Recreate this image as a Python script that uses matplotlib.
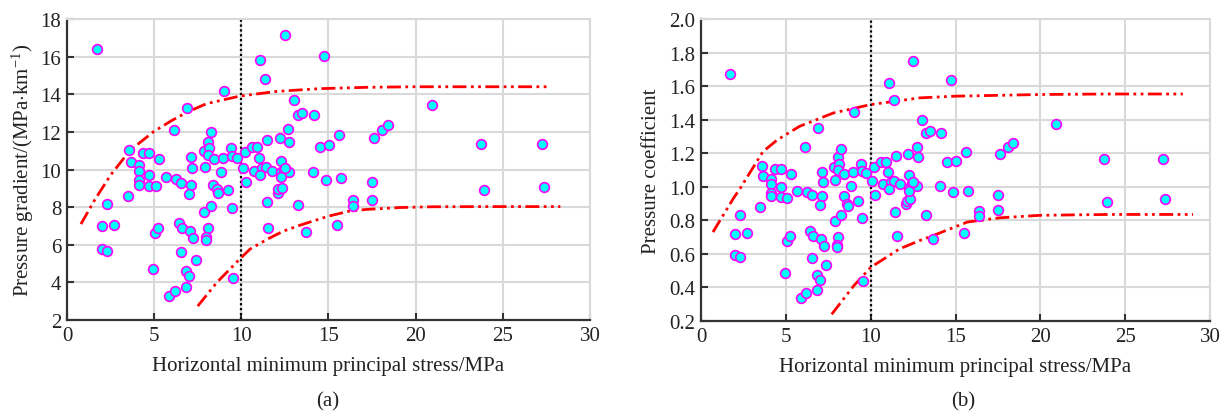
import matplotlib
matplotlib.use("Agg")
import matplotlib.pyplot as plt

plt.rcParams['font.family'] = ['Liberation Serif', 'DejaVu Serif']
plt.rcParams['mathtext.fontset'] = 'custom'
plt.rcParams['mathtext.rm'] = 'Liberation Serif'
plt.rcParams['mathtext.it'] = 'Liberation Serif:italic'

# horizontal minimum principal stress, MPa (shared by both panels)
stress = [1.7, 2.0, 2.0, 2.28, 2.28, 2.7, 3.5, 3.57, 3.67, 4.15,
          4.15, 4.15, 4.15, 4.37, 4.7, 4.7, 4.72, 5.08, 4.93, 5.05,
          5.22, 5.28, 5.68, 5.87, 6.2, 6.14, 6.25, 6.53, 6.45, 6.6,
          6.54, 6.9, 6.83, 7.0, 6.83, 7.06, 7.25, 7.38, 7.1, 7.17,
          7.1, 7.0, 7.86, 7.9, 7.88, 8.1, 8.25, 8.16, 8.1, 8.42,
          8.4, 8.6, 8.67, 8.84, 8.27, 8.1, 8.0, 8.0, 9.0, 8.95,
          9.24, 9.4, 9.47, 9.47, 9.52, 9.75, 10.2, 10.1, 10.27, 10.6,
          10.9, 10.73, 11.0, 11.1, 11.35, 11.2, 11.4, 11.1, 11.47, 11.75,
          11.46, 11.55, 12.1, 12.12, 12.34, 12.22, 12.28, 12.5, 12.28, 12.45,
          12.74, 12.28, 12.5, 12.7, 12.76, 13.03, 13.25, 13.5, 14.17, 13.25,
          13.7, 14.1, 14.5, 14.75, 15.03, 14.86, 15.6, 15.72, 15.5, 16.4,
          16.4, 17.5, 17.5, 17.6, 18.07, 18.4, 20.94, 23.75, 23.9, 27.25,
          27.37]

# pressure gradient, MPa/km (panel a)
gradient = [16.4, 7.0, 5.75, 5.65, 8.15, 7.05, 8.6, 11.02, 10.4, 10.25,
            9.9, 9.43, 9.2, 10.87, 10.87, 9.7, 9.13, 9.13, 4.7, 6.6,
            6.9, 10.55, 9.6, 3.27, 3.53, 12.1, 9.5, 9.3, 7.15, 6.9,
            5.6, 13.25, 4.6, 4.33, 3.75, 6.72, 6.35, 5.2, 10.66, 10.07,
            9.2, 8.7, 10.98, 10.12, 7.73, 11.47, 12.0, 11.13, 10.78, 10.55,
            9.2, 8.96, 8.73, 9.86, 8.07, 6.88, 6.4, 6.25, 14.17, 10.6,
            8.9, 11.13, 10.7, 7.93, 4.22, 10.6, 10.93, 10.1, 9.33, 11.2,
            11.2, 9.9, 10.63, 15.84, 14.83, 10.1, 10.13, 9.7, 11.56, 9.9,
            8.3, 6.88, 8.73, 8.95, 9.02, 11.67, 10.45, 17.15, 9.86, 9.97,
            9.86, 9.6, 10.08, 12.15, 11.46, 13.69, 12.9, 13.0, 12.9, 8.1,
            6.67, 9.86, 11.2, 16.03, 11.3, 9.43, 11.83, 9.54, 7.04, 8.37,
            8.05, 8.4, 9.33, 11.7, 12.1, 12.36, 13.43, 11.37, 8.9, 11.37,
            9.05]

# pressure coefficient (panel b)
coefficient = [1.672, 0.72, 0.594, 0.582, 0.832, 0.725, 0.88, 1.126, 1.065, 1.046,
               1.016, 0.963, 0.945, 1.106, 1.106, 0.997, 0.94, 0.935, 0.486, 0.677,
               0.707, 1.076, 0.975, 0.337, 0.367, 1.237, 0.967, 0.95, 0.736, 0.707,
               0.575, 1.35, 0.474, 0.445, 0.385, 0.69, 0.65, 0.535, 1.088, 1.03,
               0.945, 0.89, 1.12, 1.04, 0.796, 1.18, 1.225, 1.136, 1.10, 1.076,
               0.945, 0.898, 0.886, 1.005, 0.832, 0.70, 0.654, 0.643, 1.446, 1.088,
               0.915, 1.136, 1.093, 0.814, 0.44, 1.08, 1.117, 1.035, 0.951, 1.148,
               1.148, 1.017, 1.088, 1.618, 1.517, 1.03, 1.035, 0.987, 1.184, 1.017,
               0.85, 0.707, 0.897, 0.915, 0.927, 1.195, 1.07, 1.75, 0.99, 1.022,
               1.005, 0.975, 1.03, 1.24, 1.178, 1.40, 1.32, 1.33, 1.32, 0.83,
               0.69, 1.005, 1.147, 1.636, 1.155, 0.97, 1.207, 0.975, 0.725, 0.856,
               0.826, 0.862, 0.951, 1.195, 1.235, 1.26, 1.374, 1.165, 0.91, 1.165,
               0.93]

# envelope curves
a_upper_x = [0.8, 1.6, 2.5, 3.6, 4.95, 6.0, 6.9, 8.0, 9.9, 12.0, 14.5, 17.2, 20.0, 24.0, 27.7]
a_upper_y = [7.1, 8.4, 9.7, 11.0, 12.0, 12.6, 13.05, 13.5, 13.9, 14.15, 14.3, 14.37, 14.4, 14.4, 14.4]
a_lower_x = [7.5, 8.6, 9.9, 10.5, 11.5, 12.4, 13.4, 15.0, 16.2, 17.2, 19.1, 21.0, 24.0, 28.3]
a_lower_y = [2.74, 4.0, 5.23, 5.77, 6.3, 6.72, 7.05, 7.52, 7.79, 7.88, 7.98, 8.02, 8.03, 8.03]

b_upper_x = [0.7, 1.9, 2.3, 3.65, 4.5, 5.8, 7.8, 10.0, 12.9, 15.0, 20.0, 24.0, 28.4]
b_upper_y = [0.73, 0.93, 0.99, 1.21, 1.28, 1.36, 1.44, 1.49, 1.53, 1.54, 1.55, 1.553, 1.553]
b_lower_x = [7.7, 9.0, 10.0, 11.7, 12.9, 13.7, 15.7, 17.6, 20.0, 24.0, 29.0]
b_lower_y = [0.24, 0.41, 0.52, 0.63, 0.68, 0.71, 0.79, 0.815, 0.83, 0.835, 0.835]

TXT = '#222222'
GRID = '#d9d9d9'


def style_axes(ax, ylim, yticks, fmt):
    ax.set_xlim(0, 30)
    ax.set_ylim(*ylim)
    ax.set_xticks(range(0, 31, 5))
    ax.set_yticks(yticks)
    ax.set_yticklabels([fmt.format(v) for v in yticks])
    ax.grid(True, color=GRID, linewidth=1.5)
    ax.set_axisbelow(True)
    for side in ('top', 'right'):
        ax.spines[side].set_color(GRID)
        ax.spines[side].set_linewidth(1.5)
    for side in ('left', 'bottom'):
        ax.spines[side].set_color('#333333')
        ax.spines[side].set_linewidth(1.6)
    ax.tick_params(direction='in', length=5, width=1.5, color='#333333',
                   labelsize=15, labelcolor=TXT, pad=4)
    ax.set_xlabel('Horizontal minimum principal stress/MPa', fontsize=15,
                  color=TXT, labelpad=8)


def draw(ax, y, up_x, up_y, lo_x, lo_y):
    ax.axvline(10, color='black', linestyle=(0, (1, 1.2)), linewidth=1.6, zorder=2)
    for cx, cy in ((up_x, up_y), (lo_x, lo_y)):
        ax.plot(cx, cy, color='red', linewidth=2,
                dashes=[5, 1.6, 1, 1.6, 1, 1.6], zorder=3)
    ax.plot(stress, y, 'o', markersize=7, markerfacecolor='cyan',
            markeredgecolor='magenta', markeredgewidth=1.2, zorder=4)


fig = plt.figure(figsize=(12.22, 4.14), dpi=100)
ax1 = fig.add_axes([0.0548, 0.2246, 0.428, 0.727])
ax2 = fig.add_axes([0.5737, 0.2222, 0.4165, 0.7295])

draw(ax1, gradient, a_upper_x, a_upper_y, a_lower_x, a_lower_y)
style_axes(ax1, (2, 18), list(range(2, 19, 2)), '{:d}')
ax1.set_ylabel(r'Pressure gradient/(MPa$\cdot$km$^{-1}$)', fontsize=15,
               color=TXT, labelpad=3)

draw(ax2, coefficient, b_upper_x, b_upper_y, b_lower_x, b_lower_y)
style_axes(ax2, (0.2, 2.0), [0.2, 0.4, 0.6, 0.8, 1.0, 1.2, 1.4, 1.6, 1.8, 2.0], '{:.1f}')
ax2.set_ylabel('Pressure coefficient', fontsize=15, color=TXT, labelpad=6)

fig.text(0.268, 0.029, '(a)', fontsize=15, color=TXT, ha='center', va='center')
fig.text(0.788, 0.029, '(b)', fontsize=15, color=TXT, ha='center', va='center')

fig.savefig('out.png', dpi=100)
